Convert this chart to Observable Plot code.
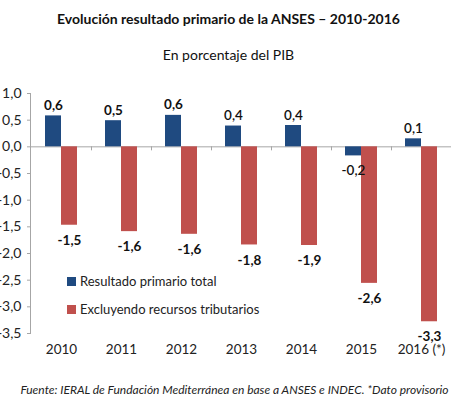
<!DOCTYPE html>
<html><head><meta charset="utf-8">
<script src="https://cdn.jsdelivr.net/npm/d3@7"></script>
<script src="https://cdn.jsdelivr.net/npm/@observablehq/plot@0.6"></script>
<style>
body{margin:0;background:#fff;font-family:Lato,"Open Sans",sans-serif;color:#111;}
#wrap{position:relative;width:469px;height:399px;overflow:hidden;}
.title{height:38px;line-height:38px;text-align:center;font-weight:bold;font-size:14px;padding-right:12px;}
.sub{height:34px;line-height:34px;text-align:center;font-size:14px;padding-right:12px;}
.cap{margin-top:8px;height:30px;line-height:30px;text-align:center;font-style:italic;font-size:12px;color:#222;}
#legend{position:absolute;left:67px;top:267px;font-size:13px;color:#222;}
#legend div{height:28px;line-height:20px;display:flex;align-items:center;}
#legend span.sw{display:inline-block;width:9px;height:9px;margin-right:4px;}
svg{display:block;}
</style></head>
<body><div id="wrap">
<div class="title">Evolución resultado primario de la ANSES – 2010-2016</div>
<div class="sub">En porcentaje del PIB</div>
<div id="chart"></div>
<div class="cap">Fuente: IERAL de Fundación Mediterránea en base a ANSES e INDEC. *Dato provisorio</div>
<div id="legend"></div>
</div>
<script>
const years = ["2010","2011","2012","2013","2014","2015","2016"];
const yearLabels = ["2010","2011","2012","2013","2014","2015","2016 (*)"];
const series = ["Resultado primario total","Excluyendo recursos tributarios"];
const colors = ["#1f4a80","#c0504d"];
const totalValues = [0.58, 0.49, 0.59, 0.39, 0.40, -0.17, 0.15];
const totalLabels = ["0,6","0,5","0,6","0,4","0,4","-0,2","0,1"];
const exclValues = [-1.47, -1.59, -1.64, -1.84, -1.85, -2.56, -3.28];
const exclLabels = ["-1,5","-1,6","-1,6","-1,8","-1,9","-2,6","-3,3"];
const yTicks = [1, 0.5, 0, -0.5, -1, -1.5, -2, -2.5, -3, -3.5];

const rows = [];
years.forEach((y,i)=>{
  rows.push({year:y, i, serie:series[0], value:totalValues[i], label:totalLabels[i]});
  rows.push({year:y, i, serie:series[1], value:exclValues[i], label:exclLabels[i]});
});
const fmt = d => d.toFixed(1).replace(".", ",");
const axisColor = "#a6a6a6";
const lab = {fx:"year", x:"serie", y:"value", text:"label", fontSize:13.5, fill:"#111"};
// the reference draws the 2013-2016 "total" labels in a lighter weight
const heavy = d => !(d.serie === series[0] && d.i >= 3);

const chart = Plot.plot({
  width: 469, height: 295,
  marginTop: 21, marginBottom: 34, marginLeft: 30, marginRight: 18,
  style: {fontFamily: "Lato, 'Open Sans', sans-serif", background: "transparent"},
  fx: {domain: years, padding: 0},
  x: {domain: series, paddingInner: 0, paddingOuter: 0.77, axis: null},
  y: {domain: [-3.5, 1], axis: null},
  color: {domain: series, range: colors},
  marks: [
    Plot.ruleY([0], {stroke: axisColor}),
    Plot.barY(rows, {fx: "year", x: "serie", y: "value", fill: "serie"}),
    Plot.text(rows.filter(d=>d.value>=0 && heavy(d)), {...lab, lineAnchor:"bottom", dy:-6, fontWeight:"bold"}),
    Plot.text(rows.filter(d=>d.value>=0 && !heavy(d)), {...lab, lineAnchor:"bottom", dy:-6, fontWeight:600}),
    Plot.text(rows.filter(d=>d.value<0 && heavy(d)), {...lab, lineAnchor:"top", dy:10, fontWeight:"bold"}),
    Plot.text(rows.filter(d=>d.value<0 && !heavy(d)), {...lab, lineAnchor:"top", dy:10, fontWeight:600}),
    Plot.axisY({ticks: yTicks, tickFormat: fmt, tickSize: 4, tickPadding: 6, stroke: axisColor, fill: "#222", fontSize: 14, label: null}),
    Plot.axisFx({anchor: "bottom", tickSize: 0, tickPadding: 11, fontSize: 13.5, fill: "#222", label: null, tickFormat: d => yearLabels[years.indexOf(d)]})
  ]
});
document.getElementById("chart").appendChild(chart);

// axis line and category separator ticks, from Plot's own scales
const fxs = chart.scale("fx"), ys = chart.scale("y");
const svg = d3.select(chart);
const g = svg.append("g").attr("stroke", axisColor);
g.append("line").attr("x1", 30.5).attr("x2", 30.5).attr("y1", ys.apply(1)).attr("y2", ys.apply(-3.5));
const y0 = ys.apply(0);
years.slice(1).forEach(y => {
  const xx = Math.round(fxs.apply(y)) + 0.5;
  g.append("line").attr("x1", xx).attr("x2", xx).attr("y1", y0).attr("y2", y0 + 4);
});

const leg = d3.select("#legend");
series.forEach((s,i)=>{
  const row = leg.append("div");
  row.append("span").attr("class","sw").style("background", colors[i]);
  row.append("span").text(s);
});
</script>
</body></html>
